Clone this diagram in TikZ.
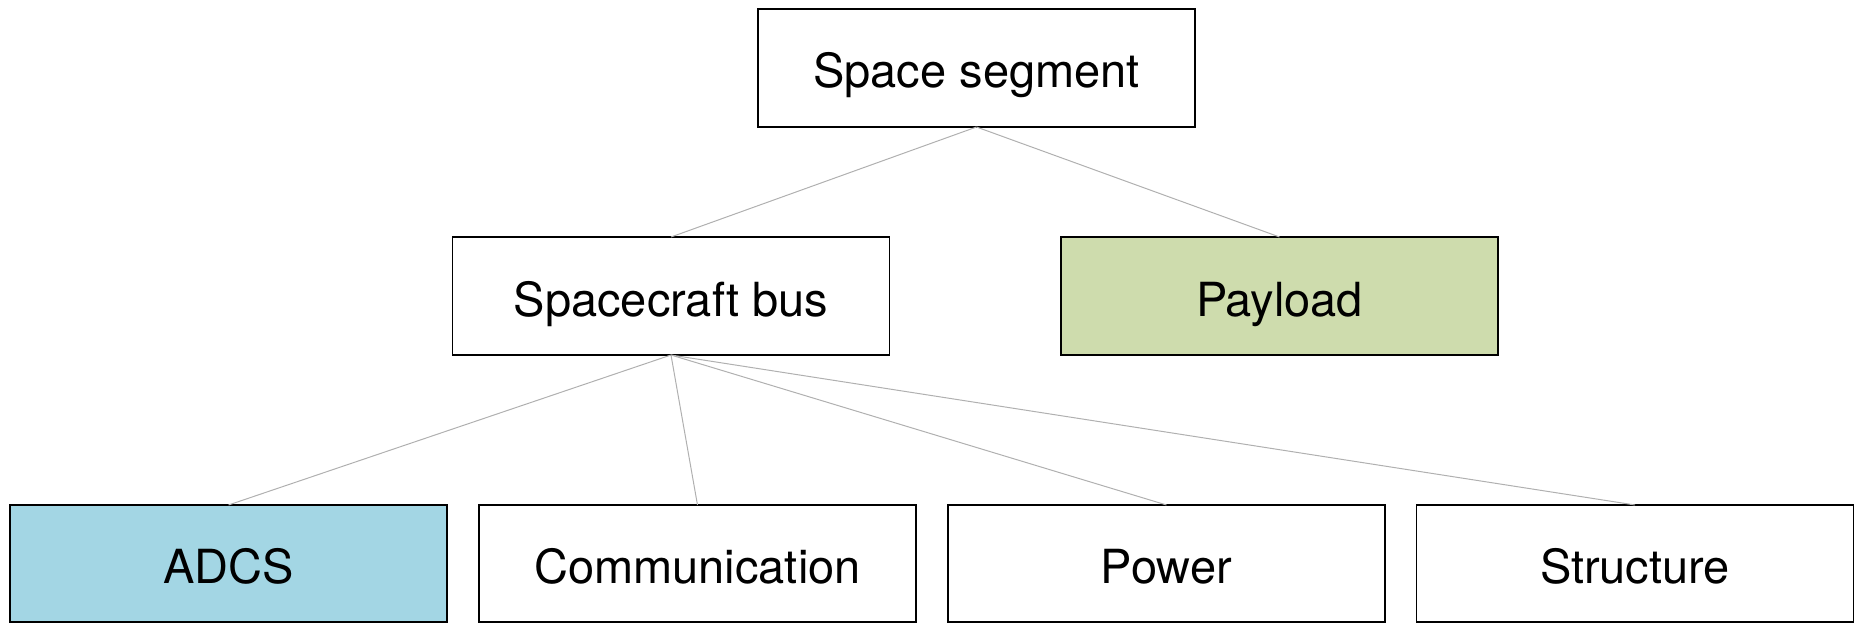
\documentclass[tikz,border=0pt]{standalone}
\usepackage{fontspec}
\setmainfont{TeX Gyre Heros}
\definecolor{payloadgreen}{RGB}{206,220,173}
\definecolor{adcsblue}{RGB}{163,214,228}
\definecolor{linkgray}{RGB}{176,176,176}
\begin{document}
\begin{tikzpicture}[x=1pt,y=-1pt,
  block/.style={draw=black,line width=1.3pt,rectangle,inner sep=0pt,outer sep=0pt,
    minimum width=437pt,minimum height=118pt,
    font=\fontsize{47}{56}\selectfont,text height=40pt,text depth=0pt},
  bottomblock/.style={block,minimum height=117pt},
  link/.style={draw=linkgray,line width=1pt}]
  \useasboundingbox (0,0) rectangle (1856,623);
  % hierarchy boxes
  \node[block] (seg) at (976.5,68) {Space segment};
  \node[block] (bus) at (671,296) {Spacecraft bus};
  \node[block,fill=payloadgreen] (pay) at (1279.5,296) {Payload};
  \node[bottomblock,fill=adcsblue] (adcs) at (228.5,563.5) {ADCS};
  \node[bottomblock] (comm) at (697.5,563.5) {Communication};
  \node[bottomblock] (pow) at (1166.5,563.5) {Power};
  \node[bottomblock] (str) at (1635,563.5) {Structure};
  % links
  \draw[link] (seg.south) -- (bus.north);
  \draw[link] (seg.south) -- (pay.north);
  \draw[link] (bus.south) -- (adcs.north);
  \draw[link] (bus.south) -- (comm.north);
  \draw[link] (bus.south) -- (pow.north);
  \draw[link] (bus.south) -- (str.north);
\end{tikzpicture}
\end{document}
